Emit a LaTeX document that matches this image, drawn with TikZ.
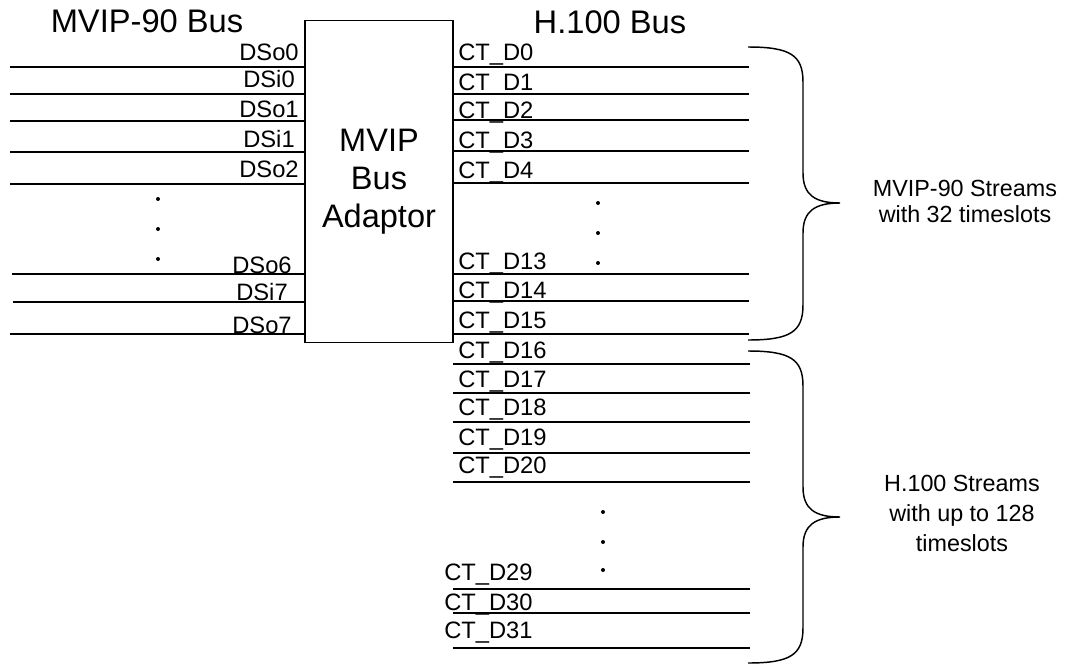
\documentclass[tikz,border=0pt]{standalone}
\usepackage{fontspec}
\setmainfont{Liberation Sans}
\usepackage{tikz}
\tikzset{
  bus line/.style={line width=1.3pt},
  bus title/.style={font=\fontsize{24.5}{29}\selectfont, anchor=base, inner sep=0pt},
  ds label/.style={font=\fontsize{17.8}{21}\selectfont, anchor=base, inner sep=0pt},
  ct label/.style={font=\fontsize{17.8}{21}\selectfont, anchor=base west, inner sep=0pt},
  stream label/.style={font=\fontsize{17.5}{19.5}\selectfont, align=center, inner sep=0pt},
  stream brace/.style={line width=1.1pt},
  bus dot/.style={fill=black},
}

\begin{document}
\begin{tikzpicture}[x=0.75pt, y=-0.75pt]
  \useasboundingbox (0,0) rectangle (1065,664);
  % adaptor and bus titles
  \node[draw, line width=1.3pt, minimum width=111pt, minimum height=241.5pt, inner sep=0pt, align=center, font=\fontsize{24.4}{28.5}\selectfont] (adaptor) at (379,181.5) {MVIP\\Bus\\Adaptor};
  \node[bus title] (mvipbus) at (147,32) {MVIP-90 Bus};
  \node[bus title] (hbus) at (610,33) {H.100 Bus};

  % MVIP-90 side
  \foreach \y/\x in {67/10,94/10,121/10,152/10,184/10,274/12,302/13,334/10}
    \draw[bus line] (\x,\y) -- (adaptor.west |- 0,\y);
  \foreach \txt/\y in {DSo0/60,DSi0/87,DSo1/117,DSi1/147,DSo2/177}
    \node[ds label] (\txt) at (269,\y) {\txt};
  \foreach \txt/\y in {DSo6/273,DSi7/300,DSo7/333}
    \node[ds label] (\txt) at (262,\y) {\txt};
  \foreach \y in {199,229,259}
    \fill[bus dot] (158,\y) circle (2);

  % H.100 side
  \foreach \y in {67,94,120,151,183,274,301,334}
    \draw[bus line] (adaptor.east |- 0,\y) -- (749,\y);
  \foreach \y in {364,393,422,453,482,589,613,648}
    \draw[bus line] (453,\y) -- (750,\y);
  \foreach \n/\y in {0/60,1/90,2/118,3/148,4/178,13/269,14/298,15/328,16/358,17/387,18/415,19/445,20/473}
    \node[ct label] (ct\n) at (458,\y) {CT\_D\n};
  \foreach \n/\y in {29/580,30/610,31/638}
    \node[ct label] (ct\n) at (444,\y) {CT\_D\n};
  \foreach \y in {203,233,263}
    \fill[bus dot] (598,\y) circle (2);
  \foreach \y in {512,542,570}
    \fill[bus dot] (603,\y) circle (2);

  % braces
  \foreach \ya/\yt/\yb in {47/203/340,351/517/663}
    \draw[stream brace] (748,\ya) .. controls (790,\ya) and (803,\ya+8) .. (803,\ya+35)
      -- (803,\yt-30) .. controls (803,\yt-8) and (815,\yt) .. (840,\yt)
      .. controls (815,\yt) and (803,\yt+8) .. (803,\yt+30)
      -- (803,\yb-35) .. controls (803,\yb-8) and (790,\yb) .. (748,\yb);
  \node[stream label] (mvipstreams) at (965,201) {MVIP-90 Streams\\with 32 timeslots};
  \node[stream label, font=\fontsize{17.5}{22.5}\selectfont] (hstreams) at (962,513.5) {H.100 Streams\\with up to 128\\timeslots};
\end{tikzpicture}
\end{document}
